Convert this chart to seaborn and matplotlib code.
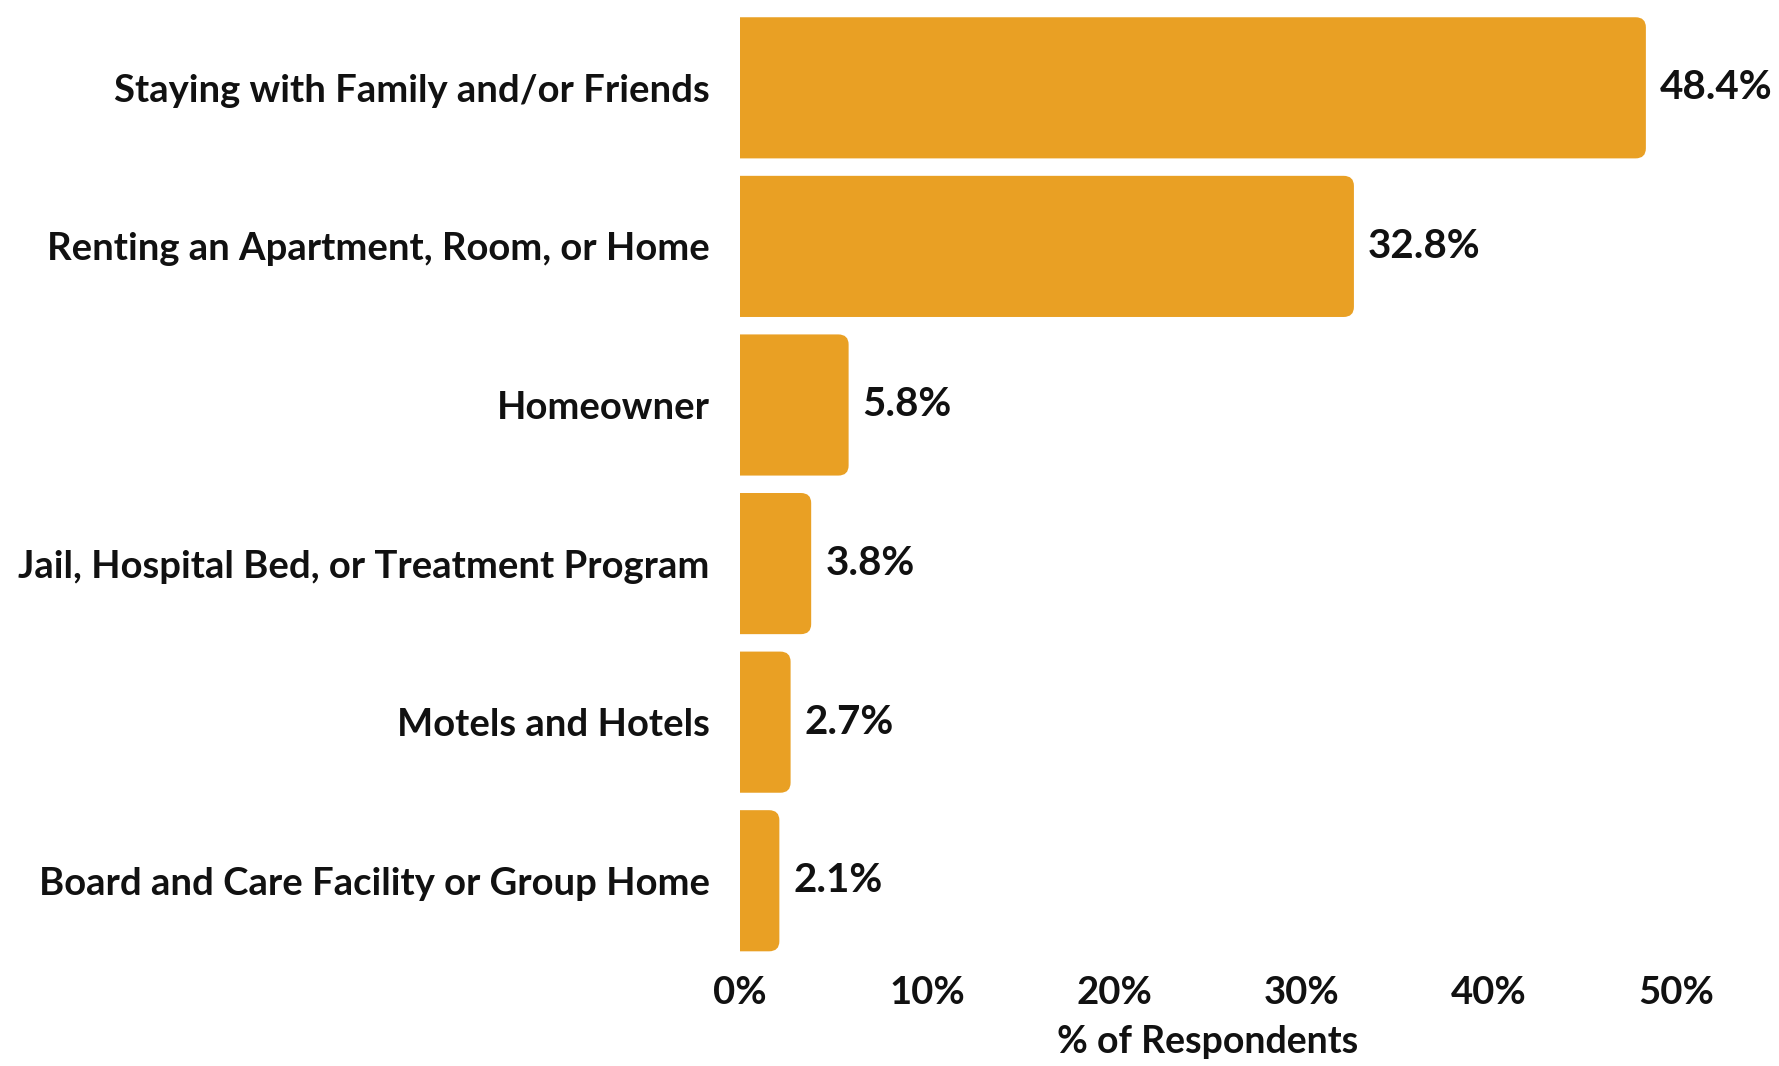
import matplotlib
matplotlib.use("Agg")
import matplotlib.pyplot as plt
import pandas as pd
import seaborn as sns
from matplotlib.patches import FancyBboxPatch

# data
categories = [
    "Staying with Family and/or Friends",
    "Renting an Apartment, Room, or Home",
    "Homeowner",
    "Jail, Hospital Bed, or Treatment Program",
    "Motels and Hotels",
    "Board and Care Facility or Group Home",
]
percent = [48.4, 32.8, 5.8, 3.8, 2.7, 2.1]
xticks = [0, 10, 20, 30, 40, 50]

bar_color = "#E9A024"

sns.set_theme(style="white")
plt.rcParams["font.family"] = ["Lato", "DejaVu Sans"]
plt.rcParams["font.weight"] = "bold"

df = pd.DataFrame({"Category": categories, "Percent": percent})

fig = plt.figure(figsize=(17.79, 10.66), dpi=100)
ax = fig.add_axes([0.416, 0.0994, 0.526, 0.8926])

sns.barplot(data=df, y="Category", x="Percent", color=bar_color,
            width=0.89, saturation=1, ax=ax)

ax.set_xlim(0, 50)
ax.set_ylim(5.5, -0.5)

# swap plain bars for ones with rounded right corners
for p in list(ax.patches):
    x0, y0 = p.get_x(), p.get_y()
    w, h = p.get_width(), p.get_height()
    p.remove()
    rb = FancyBboxPatch((x0 - 1, y0), w + 1, h,
                        boxstyle="round,pad=0,rounding_size=0.55",
                        mutation_aspect=0.115,
                        facecolor=bar_color, edgecolor="none")
    ax.add_patch(rb)
    ax.text(x0 + w + 0.75, y0 + h / 2, f"{w:.1f}%", va="center", ha="left",
            fontsize=29, fontweight="bold", color="#111111", clip_on=False)

ax.set_xticks(xticks)
ax.set_xticklabels([f"{t}%" for t in xticks], fontsize=27.5, fontweight="bold")
ax.set_yticklabels(categories, fontsize=27.5, fontweight="bold")
ax.tick_params(axis="x", length=0, pad=11.5, colors="#111111")
ax.tick_params(axis="y", length=0, pad=22, colors="#111111")
ax.set_ylabel("")
ax.set_xlabel("% of Respondents", fontsize=27, fontweight="bold",
              color="#111111", labelpad=11)
sns.despine(left=True, bottom=True)

fig.savefig("out.png", dpi=100)
